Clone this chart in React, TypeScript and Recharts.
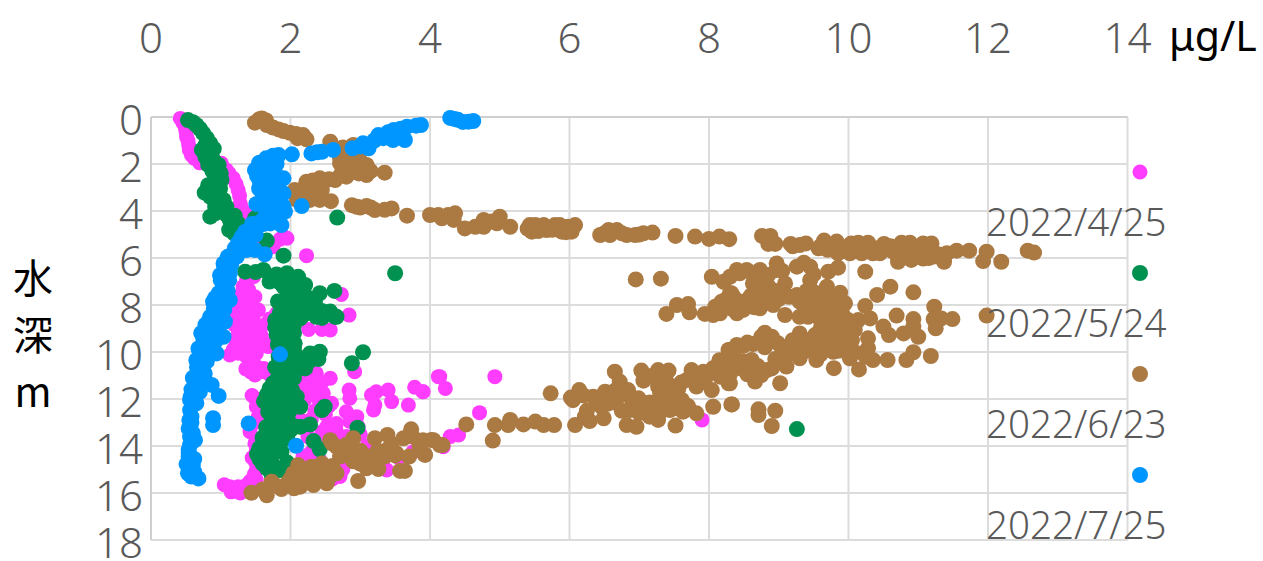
import React from 'react'
import { ScatterChart, Scatter, XAxis, YAxis, CartesianGrid } from 'recharts'

// [concentration µg/L, depth m]
const april: [number, number][] = [
  [0.42,0.06],[0.49,0.41],[0.51,0.84],[0.54,1.19],[0.58,1.62],[1.01,1.97],[1.18,2.61],[1.25,3.11],[1.28,3.67],[1.42,4.24],[1.9,5.09],[1.95,5.16],[1.75,5.52],[2.23,5.9],[2.73,7.55],[2.84,8.43],
  [0.46,0.25],[0.5,0.6],[0.53,1.0],[0.55,1.4],[0.62,1.75],[0.7,1.95],[1.08,2.25],[1.12,2.4],[1.22,2.85],[1.27,3.35],[1.3,3.9],[1.36,4.1],[1.85,5.2],[1.7,5.35],[1.6,5.5],[1.5,4.5],
  [1.32,7.22],[1.49,7.65],[1.37,6.94],[1.47,6.8],[1.28,7.79],[1.54,8.21],[1.23,8.36],[1.42,8.5],[1.8,8.36],[1.3,7.5],[1.4,7.35],[1.42,7.95],[1.35,8.1],[1.25,8.1],[1.45,8.2],[1.7,8.6],
  [1.28,8.64],[1.47,8.64],[1.66,8.78],[1.32,9.21],[1.5,9.07],[1.28,9.77],[1.13,10.13],[1.37,10.2],[1.51,10.06],[1.68,9.77],[1.49,10.98],[1.68,10.91],[1.78,11.26],[1.51,10.62],
  [1.2,8.85],[1.38,8.9],[1.55,8.95],[1.25,9.05],[1.42,9.3],[1.58,9.3],[1.2,9.45],[1.35,9.55],[1.5,9.5],[1.18,9.9],[1.4,9.85],[1.55,9.75],[1.25,10.05],[1.62,9.6],[1.46,10.35],[1.36,10.72],[1.43,10.85],[1.56,10.85],[1.62,10.7],[1.74,11.0],
  [2.26,9.04],[2.45,9.04],[2.57,9.06],[2.92,10.84],[2.57,11.12],[2.37,10.91],[2.28,11.55],[2.37,11.26],[2.18,11.33],[2.47,11.76],[2.59,12.18],[2.84,11.62],[2.85,11.97],[3.16,11.83],[3.23,11.69],[3.4,11.62],[3.45,12.11],[3.19,12.47],[3.21,12.26],[3.69,12.26],[3.78,11.5],[3.9,11.69],[4.12,11.05],
  [2.2,10.95],[2.25,11.15],[2.45,11.3],[2.15,11.7],[2.35,11.75],[2.2,12.05],[2.4,12.0],[2.55,12.3],[2.35,12.5],[2.5,12.65],[2.15,12.9],[2.3,12.85],[2.45,13.4],[2.65,13.3],[2.85,12.95],[3.0,13.5],[2.25,13.6],[2.45,13.9],[2.7,13.85],[2.85,13.9],[3.1,14.0],[3.3,14.3],[3.55,14.5],[3.1,14.85],[2.75,15.0],[2.6,15.4],[2.4,15.5],
  [2.8,12.54],[2.95,12.75],[2.66,13.04],[2.97,13.18],[2.8,13.6],[2.52,13.18],[2.09,12.75],[1.51,12.33],[1.54,12.75],[1.42,13.39],[1.51,14.17],[1.49,13.89],[2.18,14.45],[2.28,14.31],[1.51,15.02],[1.13,15.73],[1.25,15.73],[1.37,15.66],[1.51,15.45],[1.28,16.0],[2.71,15.3],[3.38,15.02],[3.76,14.24],[2.42,14.6],
  [1.45,11.85],[1.5,12.0],[1.48,13.0],[1.45,14.5],[1.5,14.7],[1.48,15.2],[1.42,15.5],[1.3,15.9],[1.05,15.65],[1.15,15.95],[1.38,15.9],
  [4.14,11.05],[4.22,11.55],[3.9,11.69],[4.93,11.05],[4.71,12.58],[4.29,13.6],[4.41,13.53],[4.19,14.03],[7.9,12.89],
]

const may: [number, number][] = [
  [0.53,0.13],[0.65,0.34],[0.75,0.7],[0.85,1.12],[0.73,1.4],[0.85,1.62],[0.82,2.04],[0.97,2.04],[0.92,2.54],[1.01,2.68],[0.77,3.22],[0.99,3.04],[1.04,3.53],[0.92,3.82],[0.85,4.24],[1.08,3.82],[1.13,4.38],[1.25,4.53],[1.49,4.31],[1.19,4.95],[1.66,5.26],[1.9,5.9],[2.67,4.28],[3.5,6.65],
  [0.6,0.22],[0.7,0.5],[0.8,0.9],[0.78,1.2],[0.9,1.35],[0.78,1.7],[0.9,1.85],[0.88,2.3],[1.0,2.4],[0.82,2.9],[0.9,3.0],[0.85,3.4],[0.98,3.35],[0.95,3.6],[1.02,4.0],[0.92,4.1],[1.08,4.15],[1.2,4.2],[1.18,4.65],[1.12,4.8],
  [1.35,6.58],[1.61,6.51],[1.73,6.8],[1.95,6.65],[2.11,6.8],[2.21,7.15],[1.87,7.93],[2.04,7.5],[2.23,7.65],[2.42,7.5],[2.63,7.4],[1.9,7.22],[2.04,8.07],[2.23,8.21],[2.57,8.28],[2.66,8.5],[1.78,8.64],
  [1.5,6.6],[1.8,6.7],[1.7,7.0],[1.85,7.05],[2.0,6.95],[2.1,7.1],[1.95,7.4],[2.1,7.4],[1.82,7.85],[1.95,7.75],[2.1,7.85],[2.35,7.9],[2.1,8.1],[1.9,8.15],[2.3,8.0],[2.45,8.25],[1.85,8.3],[2.0,8.4],[2.2,8.4],[2.45,8.55],
  [1.8,8.71],[1.94,8.64],[2.14,8.57],[2.37,8.5],[2.64,8.5],[1.97,9.07],[1.83,9.49],[2.06,9.63],[1.95,9.92],[1.83,10.2],[2.04,10.2],[2.28,10.06],[2.42,9.99],[2.4,10.3],[2.21,10.7],[3.04,10.01],[2.88,10.48],[1.83,10.84],[2.02,10.91],[1.75,11.33],[1.99,11.4],[1.66,11.83],[1.85,11.76],[2.09,11.9],[1.73,12.26],[1.92,12.33],[2.14,12.33],[2.45,12.47],[2.49,12.33],[1.73,12.82],[1.9,12.75],[2.28,13.08],[2.14,13.18],[1.66,13.46],[1.85,13.46],[2.0,13.32],[2.96,13.22],[1.66,13.89],[1.85,13.89],[1.87,14.24],[2.33,13.79],[2.42,14.14],[1.56,14.57],[1.71,14.45],[1.66,14.95],[1.85,15.02],[1.73,15.23],
  [1.78,8.95],[1.9,8.9],[2.05,8.85],[1.8,9.25],[1.92,9.3],[2.05,9.2],[1.82,9.7],[1.95,9.65],[2.05,9.85],[1.9,10.0],[2.15,10.25],[2.25,10.45],[1.92,10.45],[2.08,10.6],[1.78,10.65],[1.95,10.75],[1.85,11.05],[2.05,11.1],[1.8,11.2],[1.9,11.4],[1.7,11.55],[1.85,11.55],[2.02,11.6],[1.62,12.1],[1.8,12.05],[1.95,12.1],[1.68,12.55],[1.82,12.5],[1.98,12.55],[1.72,13.05],[1.85,13.1],[2.0,13.05],[1.65,13.2],[1.6,13.65],[1.75,13.7],[1.95,13.65],[1.55,14.1],[1.65,14.2],[1.75,14.15],[1.52,14.35],[1.6,14.75],[1.75,14.8],[1.95,14.7],
  [9.26,13.28],
]

const june: [number, number][] = [
  // top strip, near surface
  [1.59,0.06],[1.49,0.24],[1.66,0.34],[1.83,0.53],[1.99,0.67],[2.18,0.77],[2.23,0.95],[2.57,1.05],[2.66,1.4],[2.71,1.76],[2.9,1.19],[2.99,1.83],[3.09,2.04],[3.35,2.37],[3.09,2.47],[2.9,2.33],[2.71,1.97],[2.8,2.54],[2.64,2.68],[2.42,2.61],[2.23,2.75],[2.06,3.11],[2.37,3.11],[2.09,3.53],[2.28,3.53],[2.42,3.53],[2.58,3.58],[2.88,3.75],[2.95,3.82],[3.09,3.79],[3.21,3.96],[3.45,3.89],[3.67,4.2],[4.0,4.17],
  [1.55,0.1],[1.65,0.15],[1.75,0.45],[1.9,0.6],[2.08,0.72],[2.1,0.9],[2.6,1.25],[2.75,1.3],[2.85,1.4],[2.8,1.7],[2.9,1.6],[2.95,1.45],[2.88,1.95],[3.0,2.1],[3.15,2.3],[2.98,2.4],[2.72,2.45],[2.55,2.65],[2.32,2.7],[2.2,3.0],[2.12,3.25],[2.28,3.2],[2.45,3.1],[2.2,3.45],[3.0,3.85],[3.35,3.95],[3.15,3.85],
  // 4-6 m band
  [4.12,4.17],[4.17,4.31],[4.26,4.17],[4.36,4.1],[4.34,4.38],[4.5,4.74],[4.65,4.67],[4.77,4.38],[4.77,4.67],[4.88,4.45],[5.0,4.24],[4.96,4.52],[5.15,4.67],[5.43,4.6],[5.51,4.6],[5.46,4.88],[5.63,4.6],[5.67,4.81],[5.79,4.6],[5.86,4.6],[5.89,4.88],[5.98,4.67],[6.08,4.6],[6.03,4.88],[6.44,5.02],[6.56,4.81],[6.68,4.81],[6.58,5.02],[6.82,5.02],[6.94,5.02],[7.06,4.95],[7.19,4.92],[7.52,5.06],[7.8,5.09],[8.0,5.19],[8.15,5.09],[8.29,5.2],
  [5.4,4.75],[5.55,4.85],[5.75,4.8],[6.0,4.75],[5.95,4.9],[6.5,4.95],[6.75,4.95],[7.0,5.0],
  [8.76,5.06],[8.88,5.06],[8.85,5.4],[8.95,5.4],[9.17,5.4],[9.39,5.38],[9.57,5.59],[9.65,5.26],[9.83,5.3],[9.85,5.8],[10.04,5.38],[10.14,5.35],[10.28,5.35],[10.02,5.8],[10.19,5.8],[10.35,5.8],[10.45,5.8],[10.51,5.4],[10.64,5.73],[10.76,5.35],[10.88,5.35],[10.71,6.16],[10.9,6.08],[11.07,5.38],[11.19,5.38],[11.07,6.02],[11.22,5.94],[11.37,6.16],[11.41,5.8],[11.55,5.69],[11.73,5.69],[11.98,5.73],[11.93,6.13],[12.19,6.16],[12.57,5.69],[12.66,5.77],
  [9.95,5.55],[10.1,5.6],[10.25,5.55],[10.4,5.6],[10.6,5.5],[10.8,5.7],[10.95,5.75],[11.15,5.7],[11.3,5.85],[10.85,5.9],[11.0,5.95],[11.15,6.0],[9.7,5.65],[9.75,5.45],[9.6,5.5],[9.2,5.5],[9.3,5.45],
  // 6-10 m cloud
  [6.95,6.91],[7.31,6.88],[8.04,6.8],[8.21,7.01],[8.3,7.5],[8.4,6.51],[7.39,8.38],[7.54,8.0],[7.7,7.96],[7.72,8.31],[7.94,8.38],[8.06,8.43],[8.16,8.35],[8.09,8.07],[8.18,7.86],[8.3,7.93],[8.4,8.35],[8.42,7.93],
  [8.44,6.65],[8.54,6.51],[8.73,6.51],[8.85,6.72],[8.97,6.51],[8.97,6.23],[9.26,6.37],[9.36,6.2],[9.45,6.37],[9.71,6.58],[9.85,6.41],[10.24,6.58],
  [8.63,7.08],[8.75,7.15],[9.09,7.08],[9.45,6.94],[9.45,7.29],[9.69,7.22],[9.88,7.48],[10.41,7.57],[10.6,7.22],[10.93,7.46],
  [8.32,7.5],[8.9,7.57],[9.06,7.5],[9.26,7.57],[9.42,7.79],[9.66,7.79],[9.78,7.79],[9.95,7.93],[10.24,8.04],
  [8.49,8.21],[8.73,8.14],[8.92,8.0],[9.09,8.43],[9.3,8.5],[9.42,8.5],[9.59,8.43],[9.73,8.35],[9.92,8.43],[10.14,8.64],[10.31,8.57],[10.69,8.45],[10.93,8.6],[11.23,8.07],[11.22,8.6],[11.33,8.57],[11.49,8.6],[11.98,8.45],[11.25,8.99],
  [9.73,8.78],[9.92,8.85],[10.09,9.06],[10.5,8.92],[10.58,9.28],[10.79,9.21],[11.0,9.35],[10.93,8.92],
  [8.8,9.18],[9.3,9.21],[9.52,9.28],[9.73,9.21],[9.95,9.28],[10.28,9.42],
  [8.49,9.74],[8.63,9.66],[8.87,9.56],[8.99,9.63],[9.09,9.8],[9.33,9.77],[9.52,9.7],[9.73,9.7],[9.95,9.77],[10.04,9.84],[10.28,9.84],
  [8.3,9.91],[8.4,10.34],[8.61,10.34],[8.3,10.62],[8.44,10.69],[8.83,10.77],[9.02,10.41],[9.11,10.62],[9.11,10.13],[9.3,10.27],[9.54,10.34],[9.78,9.99],[10.02,10.27],[10.15,10.74],[10.35,10.34],[10.56,10.34],[10.83,10.34],[10.93,10.01],[11.18,10.17],[9.79,10.69],
  [8.63,10.98],[8.66,11.26],[8.75,10.98],[8.3,11.33],[9.02,11.33],[8.32,12.23],[8.71,12.44],[8.71,12.68],[8.95,12.5],[8.9,13.15],
  [9.6,8.1],[9.75,8.15],[9.9,8.15],[9.6,8.65],[9.85,8.65],[10.0,8.65],[9.6,9.0],[9.8,9.0],[10.0,8.95],[9.7,9.45],[9.85,9.45],[10.05,9.5],[9.65,9.9],[9.85,9.95],[10.0,10.1],[9.45,9.95],[9.3,9.95],[9.2,10.05],[9.6,10.1],[10.2,10.05],[10.25,10.2],[9.65,8.0],[9.55,7.5],[9.7,7.5],[9.85,7.75],[9.55,7.95],[9.45,8.25],[9.4,7.4],[9.5,6.7],
  [8.25,7.75],[8.35,7.65],[8.5,7.85],[8.6,7.6],[8.75,7.7],[9.0,7.75],[9.15,7.65],[9.3,7.85],[8.45,8.0],[8.65,8.1],[8.85,7.85],[8.35,8.2],[8.55,6.55],[8.7,6.7],[9.05,6.55],[8.3,6.8],[8.85,7.2],[8.95,7.4],[8.7,7.5],
  [8.55,9.6],[8.75,9.35],[8.9,9.35],[8.8,9.8],[9.05,10.0],[9.2,9.5],[9.4,9.5],[8.95,10.3],[8.7,10.6],[8.9,10.7],[8.5,10.4],[8.3,10.3],[8.15,10.35],[8.2,10.7],[8.45,10.5],[8.55,10.95],[8.05,10.85],[7.95,11.1],[8.3,10.95],
  // 10-13 m band
  [4.52,13.08],[4.93,13.11],[4.9,13.77],[5.12,13.11],[5.15,12.89],[5.34,13.08],[5.51,12.96],[5.63,13.11],[5.78,13.11],[5.73,11.76],[6.02,11.94],[6.14,11.62],[6.08,13.11],[6.22,12.75],[6.29,12.94],[6.34,11.9],[6.51,11.69],[6.49,12.82],[6.46,12.33],[6.65,10.84],[6.72,11.26],[6.7,11.9],[6.84,11.62],[6.82,13.11],[6.96,13.18],[6.87,12.47],[6.99,11.97],[7.03,10.79],[7.06,11.22],[7.15,12.75],[7.27,10.77],[7.42,10.79],[7.37,11.19],[7.27,11.47],[7.2,12.18],[7.37,11.97],[7.3,12.54],[7.27,12.89],[7.44,12.47],[7.63,12.54],[7.52,13.13],[7.82,12.61],[7.61,12.04],[7.56,11.55],[7.68,11.19],[7.82,11.47],[7.75,10.77],[7.92,10.84],[8.06,10.69],[8.13,10.55],[8.04,11.62],[8.28,11.33],[8.06,12.33],[8.33,12.23],[8.28,9.91],[8.4,10.48],[7.92,11.26],[8.16,11.05],[8.4,9.7],
  [6.55,11.85],[6.65,12.15],[6.8,11.8],[6.9,12.1],[6.55,12.2],[6.75,12.5],[7.0,12.2],[7.1,12.45],[7.15,12.15],[7.0,12.6],[7.25,12.2],[7.5,12.2],[7.3,11.75],[7.42,11.6],[7.55,12.4],[7.7,12.3],[7.4,11.3],[7.6,11.3],[7.75,11.1],[7.2,11.0],[7.35,10.9],[7.5,11.55],[7.8,11.3],[7.9,11.05],[6.65,11.65],[6.4,12.05],[6.2,11.85],[6.05,12.05],[6.25,12.5],
  // near bottom
  [3.86,13.82],[4.02,13.74],[4.18,13.96],[3.93,14.38],[1.44,15.99],[1.66,16.1],[1.87,15.83],[1.73,15.52],[1.95,15.59],[2.14,15.73],[2.33,15.66],[2.52,15.59],[2.04,15.16],[2.11,14.81],[2.28,15.16],[2.45,14.74],[2.45,15.23],[2.66,15.16],[2.97,15.49],[2.85,14.45],[2.71,14.45],[2.57,13.75],[2.9,13.67],[2.66,14.03],[2.95,14.31],[3.14,14.45],[3.09,14.95],[3.26,14.98],[3.21,13.67],[3.39,13.53],[3.38,14.17],[3.52,14.31],[3.57,15.06],[3.64,15.06],[3.7,14.45],[3.92,14.35],[3.62,13.67],[3.73,13.29],[3.9,13.75],[4.05,13.75],[4.14,13.96],[2.14,15.45],[2.3,14.88],
  [2.2,15.3],[2.35,15.45],[2.55,15.35],[2.0,15.4],[1.8,15.7],[1.6,15.85],[2.05,15.8],[2.25,15.05],[2.6,14.85],[2.35,14.9],[2.5,14.95],[2.9,14.65],[3.0,14.75],[3.2,14.7],[3.35,14.45],[3.5,14.4],[3.0,14.2],[2.75,14.15],[2.8,13.95],[3.25,14.2],[3.45,13.9],[3.75,13.6],[3.85,14.0],[2.6,13.9],
]

const july: [number, number][] = [
  [4.29,0.04],[4.4,0.12],[4.62,0.17],[4.47,0.21],[4.35,0.08],[4.55,0.2],
  [3.87,0.34],[3.67,0.41],[3.48,0.55],[3.64,0.98],[3.47,0.98],[3.26,0.77],[3.12,1.33],[3.04,1.12],[2.89,1.33],[2.61,1.4],[2.45,1.48],[2.3,1.55],
  [3.8,0.37],[3.58,0.5],[3.4,0.65],[3.55,0.85],[3.33,0.9],[3.2,1.0],[3.0,1.25],[2.38,1.5],
  [2.02,1.59],[1.83,1.62],[1.65,1.76],[1.49,2.26],[1.59,2.04],[1.9,2.61],[1.56,2.75],[1.71,2.4],[1.59,3.18],[1.9,3.25],[1.73,3.11],[1.51,3.7],[1.68,3.53],[1.92,4.03],[1.78,3.75],[1.87,4.6],[1.71,4.53],[2.16,3.79],[1.51,4.74],[1.35,4.88],[1.42,5.23],[1.2,5.59],[1.37,5.66],[1.63,5.84],[1.49,5.66],[1.04,6.23],[1.23,5.94],[0.99,6.73],[1.13,6.65],[1.04,7.29],[0.89,7.86],[1.13,7.79],[0.99,8.35],[0.85,8.5],
  [1.75,1.65],[1.55,1.95],[1.7,1.85],[1.8,2.0],[1.62,2.3],[1.78,2.4],[1.52,2.5],[1.75,2.7],[1.62,2.85],[1.8,2.9],[1.55,3.05],[1.7,3.3],[1.85,3.4],[1.6,3.5],[1.9,3.8],[1.62,3.8],[1.75,4.1],[1.62,4.3],[1.8,4.35],[1.55,4.5],[1.45,4.55],[1.62,4.55],[1.3,5.1],[1.25,5.35],[1.5,5.0],[1.1,5.95],[1.25,5.7],[1.05,6.5],[1.15,6.3],[1.0,6.95],[1.12,6.95],[1.05,7.1],[0.97,7.5],[1.1,7.4],[0.92,7.7],[1.05,7.9],[0.9,8.15],[1.05,8.2],
  [0.82,8.71],[1.06,8.71],[0.94,9.14],[1.04,9.35],[0.75,9.7],[0.89,9.7],[0.94,10.06],[0.7,10.06],[0.66,10.65],[0.77,10.91],[0.63,11.48],[0.87,11.4],[0.97,11.87],[0.56,12.04],[0.65,12.18],[0.56,12.47],[0.58,12.75],[0.89,12.82],[0.89,13.11],[1.4,13.04],[1.85,10.1],[2.08,13.99],[0.54,13.25],[0.56,13.6],[0.63,13.75],[0.54,14.17],[0.54,14.45],[0.51,14.77],[0.6,14.81],[0.53,15.16],[0.58,15.3],[0.68,15.38],
  [0.78,8.85],[0.95,8.85],[0.72,9.2],[0.85,9.3],[0.75,9.45],[0.92,9.55],[0.68,9.85],[0.82,10.0],[0.65,10.35],[0.8,10.4],[0.72,10.7],[0.6,11.1],[0.72,11.2],[0.58,11.6],[0.7,11.7],[0.57,11.9],[0.6,12.25],[0.55,12.9],[0.58,13.0],[0.6,13.45],[0.56,13.95],[0.54,14.3],[0.62,14.55],[0.55,14.95],[0.62,15.1],
]

const xTicks = [0, 2, 4, 6, 8, 10, 12, 14]
const yTicks = [0, 2, 4, 6, 8, 10, 12, 14, 16, 18]

const seriesList = [
  { name: '2022/4/25', color: '#FF3DFF', rows: april, r: 7.5 },
  { name: '2022/5/24', color: '#009150', rows: may, r: 8 },
  { name: '2022/6/23', color: '#AB7942', rows: june, r: 8 },
  { name: '2022/7/25', color: '#0096FF', rows: july, r: 8 },
]

const font = '"Noto Sans", sans-serif'

const toRows = (rows: [number, number][]) => rows.map(([x, y]) => ({ x, y }))

const Dot = (props: any) => {
  const { cx, cy, fill, r } = props
  return <circle cx={cx} cy={cy} r={r} fill={fill} />
}

// the legend sits over the plot, so it must not take any room from it
const LegendBox = () => (
  <div style={{ position: 'absolute', left: 0, top: 0, fontFamily: font, fontWeight: 300 }}>
    {seriesList.map((s, i) => (
      <React.Fragment key={s.name}>
        <svg width={18} height={18} style={{ position: 'absolute', left: 1131, top: 163 + i * 101 }}>
          <circle cx={9} cy={9} r={s.r} fill={s.color} />
        </svg>
        <div style={{ position: 'absolute', left: 986, top: 193 + i * 101, fontSize: 38.5, lineHeight: '56px', color: '#595959', whiteSpace: 'nowrap' }}>
          {s.name}
        </div>
      </React.Fragment>
    ))}
  </div>
)

export default function App() {
  return (
    <div style={{ position: 'absolute', left: 0, top: 0, width: 1263, height: 561, background: '#fff', overflow: 'hidden' }}>
      <ScatterChart width={1263} height={561} margin={{ top: 0, right: 135.5, bottom: 21, left: 0 }}>
        <CartesianGrid stroke="#DCDCDC" strokeWidth={2} />
        <XAxis
          type="number"
          dataKey="x"
          orientation="top"
          domain={[0, 14]}
          ticks={xTicks}
          height={117}
          tickLine={false}
          axisLine={{ stroke: '#CFCFCF', strokeWidth: 2 }}
          tick={{ fill: '#595959', fontSize: 42, fontFamily: font, fontWeight: 300 }}
          tickMargin={58}
          interval={0}
        />
        <YAxis
          type="number"
          dataKey="y"
          reversed
          domain={[0, 18]}
          ticks={yTicks}
          width={151}
          tickLine={false}
          axisLine={{ stroke: '#CFCFCF', strokeWidth: 2 }}
          tick={{ fill: '#595959', fontSize: 42, fontFamily: font, fontWeight: 300, dy: 3 }}
          tickMargin={2}
          interval={0}
        />
        {seriesList.map(s => (
          <Scatter
            key={s.name}
            name={s.name}
            data={toRows(s.rows)}
            fill={s.color}
            isAnimationActive={false}
            shape={(p: any) => <Dot {...p} r={s.r} fill={s.color} />}
          />
        ))}
      </ScatterChart>
      <LegendBox />
      <div style={{ position: 'absolute', left: 1169, top: 10, fontFamily: font, fontSize: 41, lineHeight: '50px', color: '#000' }}>μg/L</div>
      <div style={{ position: 'absolute', left: 11, top: 248, width: 44, textAlign: 'center', fontFamily: '"Noto Sans CJK JP", sans-serif', fontSize: 40, lineHeight: '57px', color: '#000' }}>
        <div>水</div>
        <div>深</div>
        <div>m</div>
      </div>
    </div>
  )
}
